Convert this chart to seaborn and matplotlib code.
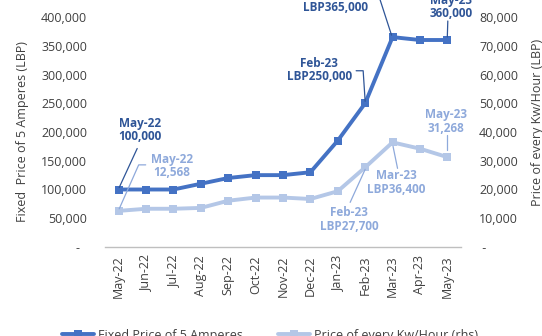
import matplotlib
matplotlib.use("Agg")
import matplotlib.pyplot as plt
import matplotlib.transforms as mtransforms
from matplotlib.lines import Line2D
import numpy as np
import pandas as pd
import seaborn as sns

# ---- data -------------------------------------------------------------
months = ["May-22", "Jun-22", "Jul-22", "Aug-22", "Sep-22", "Oct-22", "Nov-22",
          "Dec-22", "Jan-23", "Feb-23", "Mar-23", "Apr-23", "May-23"]
fixed_5amp = [100000, 100000, 100000, 110000, 120000, 125000, 125000,
              130000, 185000, 250000, 365000, 360000, 360000]
kwh_price = [12568, 13300, 13300, 13600, 16100, 17200, 17200,
             16700, 19400, 27700, 36400, 34200, 31268]
left_ticks = [0, 50000, 100000, 150000, 200000, 250000, 300000, 350000, 400000]
right_ticks = [0, 10000, 20000, 30000, 40000, 50000, 60000, 70000, 80000]

DARK = "#4472C4"
DARK_TXT = "#2F5597"
LIGHT = "#B4C7E7"
LIGHT_TXT = "#8EA9DB"
TICK_C = "#404040"
AXIS_C = "#BFBFBF"
LW = 2.8
MS = 6

sns.set_style("white")
plt.rcParams["font.family"] = ["Open Sans", "DejaVu Sans"]

df = pd.DataFrame({"idx": np.arange(len(months)), "month": months,
                   "fixed": fixed_5amp, "kwh": kwh_price})

W, H = 542, 336
fig = plt.figure(figsize=(W / 100, H / 100), dpi=100)
ax = fig.add_axes([105 / W, 1 - 247 / H, (461 - 105) / W, 230 / H])
ax2 = ax.twinx()

sns.lineplot(data=df, x="idx", y="fixed", ax=ax, color=DARK, lw=LW,
             marker="s", markersize=MS, markeredgewidth=0, legend=False)
sns.lineplot(data=df, x="idx", y="kwh", ax=ax2, color=LIGHT, lw=LW,
             marker="s", markersize=MS, markeredgewidth=0, legend=False)

n = len(months)
for a in (ax, ax2):
    a.set_xlim(-0.5, n - 0.5)
    for s in a.spines.values():
        s.set_visible(False)
    a.set_xlabel("")
    a.set_ylabel("")
    a.grid(False)
    a.patch.set_visible(False)

ax.set_ylim(0, 400000)
ax2.set_ylim(0, 80000)


def fmt(v, right=False):
    if v == 0:
        return " -" if right else "-  "
    return f"{v:,}"


ax.set_yticks(left_ticks)
ax.set_yticklabels([fmt(v) for v in left_ticks])
ax2.set_yticks(right_ticks)
ax2.set_yticklabels([fmt(v, True) for v in right_ticks])
ax.tick_params(axis="y", length=0, pad=13, labelsize=9, labelcolor=TICK_C)
ax2.tick_params(axis="y", length=0, pad=13, labelsize=9, labelcolor=TICK_C)

# category axis: labels centred on categories, tick marks between them
ax.spines["bottom"].set_visible(True)
ax.spines["bottom"].set_color(AXIS_C)
ax.spines["bottom"].set_linewidth(1.0)
ax.set_xticks(np.arange(n))
ax.set_xticklabels(months, rotation=90)
ax.set_xticks(np.arange(n + 1) - 0.5, minor=True)
ax.tick_params(axis="x", which="major", length=0, pad=6, labelsize=9, labelcolor=TICK_C)
ax.tick_params(axis="x", which="minor", length=4, width=1, color=AXIS_C, direction="out")
ax2.tick_params(axis="x", which="both", length=0, labelbottom=False)

fig.text(23 / W, 1 - 132 / H, "Fixed  Price of 5 Amperes (LBP)", rotation=90,
         ha="center", va="center", fontsize=9, color=TICK_C)
fig.text(537 / W, 1 - 122 / H, "Price of every Kw/Hour (LBP)", rotation=90,
         ha="center", va="center", fontsize=9, color=TICK_C)

PX = 0.72  # points per pixel at 100 dpi


def label(a, i, v, text, color, dx, dy):
    a.annotate(text, xy=(i, v), xytext=(dx * PX, -dy * PX), textcoords="offset points",
               ha="center", va="center", fontsize=8.5, fontweight="bold", color=color,
               linespacing=1.05, annotation_clip=False)


def leader(a, i, v, pts, color):
    trans = (mtransforms.Affine2D().scale(fig.dpi / 72.0)
             + mtransforms.ScaledTranslation(i, v, a.transData))
    xs = [p[0] * PX for p in pts]
    ys = [-p[1] * PX for p in pts]
    fig.add_artist(Line2D(xs, ys, transform=trans, color=color, lw=0.9, clip_on=False))


name_of = {m: k for k, m in enumerate(months)}

# fixed-price callouts (left scale)
i = name_of["May-22"]; v = fixed_5amp[i]
label(ax, i, v, "May-22\n100,000", DARK_TXT, 21.5, -59.5)
leader(ax, i, v, [(18.5, -41), (0.5, -2)], DARK_TXT)

i = name_of["Feb-23"]; v = fixed_5amp[i]
label(ax, i, v, "Feb-23\nLBP250,000", DARK_TXT, -46, -33)
leader(ax, i, v, [(-9, -32.5), (-2, -32.5), (0, -2)], DARK_TXT)

i = name_of["Mar-23"]; v = fixed_5amp[i]
label(ax, i, v, "Mar-23\nLBP365,000", DARK_TXT, -57, -36)
leader(ax, i, v, [(-20, -39), (-13, -39), (-1, -2)], DARK_TXT)

i = name_of["May-23"]; v = fixed_5amp[i]
label(ax, i, v, "May-23\n360,000", DARK_TXT, 3.5, -33)
leader(ax, i, v, [(0.5, -19), (0, -3)], DARK_TXT)

# per-kWh callouts (right scale)
i = name_of["May-22"]; v = kwh_price[i]
label(ax2, i, v, "May-22\n12,568", LIGHT_TXT, 53, -45)
leader(ax2, i, v, [(27, -46), (20, -46), (0.5, -2)], LIGHT_TXT)

i = name_of["Feb-23"]; v = kwh_price[i]
label(ax2, i, v, "Feb-23\nLBP27,700", LIGHT_TXT, -16, 52)
leader(ax2, i, v, [(-15, 35), (0, 2)], LIGHT_TXT)

i = name_of["Mar-23"]; v = kwh_price[i]
label(ax2, i, v, "Mar-23\nLBP36,400", LIGHT_TXT, 3.5, 40)
leader(ax2, i, v, [(5, 26), (0.5, 4)], LIGHT_TXT)

i = name_of["May-23"]; v = kwh_price[i]
label(ax2, i, v, "May-23\n31,268", LIGHT_TXT, -1.5, -35.5)
leader(ax2, i, v, [(-0.5, -22), (-0.5, -7)], LIGHT_TXT)

handles = [Line2D([], [], color=DARK, lw=LW, marker="s", markersize=MS, markeredgewidth=0),
           Line2D([], [], color=LIGHT, lw=LW, marker="s", markersize=MS, markeredgewidth=0)]
fig.legend(handles, ["Fixed Price of 5 Amperes", "Price of every Kw/Hour (rhs)"],
           loc="center", bbox_to_anchor=(270 / W, 1 - 335 / H), ncol=2, frameon=False,
           fontsize=9, handlelength=2.6, handletextpad=0.3, columnspacing=2.8,
           labelcolor=TICK_C, borderpad=0)

fig.savefig("out.png", dpi=100)
